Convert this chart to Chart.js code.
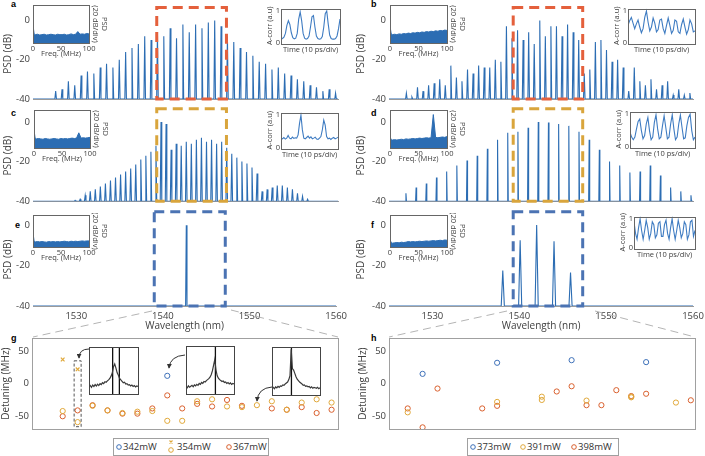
<!DOCTYPE html>
<html>
<head>
<meta charset="utf-8">
<script src="https://cdn.jsdelivr.net/npm/chart.js@4.4.1/dist/chart.umd.min.js"></script>
<style>
  body { margin: 0; width: 705px; height: 456px; position: relative; overflow: hidden; background: #fff; font-family: 'Open Sans', sans-serif; color: #333; }
  canvas { position: absolute; }
  .tag { position: absolute; font: bold 9px 'Liberation Sans', sans-serif; color: #000; }
  .legend { position: absolute; height: 16px; border: 1px solid #a0a0a0; background: #fff; font-size: 9.5px; }
  .legend span { position: absolute; top: 1px; white-space: nowrap; }
  .legend svg { position: absolute; overflow: visible; }
  #overlay { position: absolute; left: 0; top: 0; pointer-events: none; }
</style>
</head>
<body>
<div class="tag" style="left:11px;top:-1px">a</div>
<div class="tag" style="left:371px;top:-1px">b</div>
<div class="tag" style="left:11px;top:108px">c</div>
<div class="tag" style="left:371px;top:108px">d</div>
<div class="tag" style="left:15px;top:220px">e</div>
<div class="tag" style="left:371px;top:220px">f</div>
<div class="tag" style="left:11px;top:333px">g</div>
<div class="tag" style="left:371px;top:333px">h</div>

<div class="legend" style="left:113px;top:438px;width:154px">
  <svg style="left:3px;top:8px"><circle cx="2" cy="0" r="2.3" fill="none" stroke="#3d70b8" stroke-width="1"/></svg>
  <span style="left:9px">342mW</span>
  <svg style="left:55px;top:3px"><path d="M0.5 -1.5 L3.5 1.5 M0.5 1.5 L3.5 -1.5" stroke="#e0a83a" stroke-width="1.1"/><circle cx="2" cy="8" r="2.3" fill="none" stroke="#e0a83a" stroke-width="1"/></svg>
  <span style="left:63px">354mW</span>
  <svg style="left:113px;top:8px"><circle cx="2" cy="0" r="2.3" fill="none" stroke="#d9602e" stroke-width="1"/></svg>
  <span style="left:119px">367mW</span>
</div>
<div class="legend" style="left:467px;top:438px;width:150px">
  <svg style="left:3px;top:8px"><circle cx="2" cy="0" r="2.3" fill="none" stroke="#3d70b8" stroke-width="1"/></svg>
  <span style="left:9px">373mW</span>
  <svg style="left:53px;top:8px"><circle cx="2" cy="0" r="2.3" fill="none" stroke="#e0a83a" stroke-width="1"/></svg>
  <span style="left:59px">391mW</span>
  <svg style="left:104px;top:8px"><circle cx="2" cy="0" r="2.3" fill="none" stroke="#d9602e" stroke-width="1"/></svg>
  <span style="left:110px">398mW</span>
</div>

<script>
// ---- optical spectra (dB), one peak per comb line ----
const WL_MIN = 1525, WL_MAX = 1560, FLOOR = -40, BOX_TOP = 6.6;

const aStart = 1527.6, aStep = 0.73;
const aPeaks = [-36, -35, -31, -33, -28, -26, -27, -24, -22, -24, -20, -16, -14, -12, -8,
  -10, -6, -8, -4, -9, -2, -6, -2, -4, -1, 0, -3, -8, -11, -14,
  -16, -18, -21, -22, -25, -24, -27, -28, -30, -31, -33, -34, -36, -35, -37];

const bStart = 1527.0, bStep = 0.64;
const bPeaks = [-37, -39, -34, -36, -33, -32, -30, -33, -23, -29, -31, -25, -27, -23, -24,
  -24, -20, -21, -3, -9, -5, -10, -6, -12, 0, -8, -3, -3, -8, -2,
  -6, -10, -27, -25, -11, -10, -15, -21, -20, -24, -36, -24, -31, -33, -30,
  -35, -33, -31, -38, -35, -38, -37];

const cStart = 1529.83, cStep = 0.58;
const cPeaks = [-39.5, -39, -37, -35, -34, -32.5, -31, -29.5, -28, -26.5, -25, -23.5, -21.5, -19, -17,
  -15, -12, 0, -1, -14, -11, -12, -10, -11, -9, -8, -10, -9, -11, -10,
  -13, -16, -18, -20, -21, -23, -26, -35, -34, -33, -32, -32, -33, -34, -36, -37.5, -39];

const dStart = 1526.95, dStep = 1.172;
const dPeaks = [-36, -33, -31, -28, -25, -22, -19.5, -17, -13.5, -9, -5.5, -5, -3, 0, -0.3,
  -1, -2, -5, -9, -14, -20, -22, -25.5, -25, -22, -27, -33, -35, -37];

const eWl = [1542.7];
const ePeaks = [0];

const fWl = [1538.1, 1540.1, 1542.0, 1544.0, 1545.9];
const fPeaks = [-22.5, -7.5, 0, -8, -23.5];

// ---- RF spectra insets (relative level in box) ----
const rfFreq = [0, 2, 4, 8, 12, 16, 20, 24, 28, 32, 36, 40, 44, 48, 52, 56, 60, 64, 68, 72, 76, 80, 84, 88, 92, 96, 100];
const aRf = [0.47, 0.24, 0.22, 0.23, 0.21, 0.22, 0.23, 0.21, 0.22, 0.23, 0.22, 0.21, 0.23, 0.22, 0.22, 0.23, 0.21, 0.22, 0.24, 0.22, 0.23, 0.3, 0.23, 0.24, 0.23, 0.25, 0.24];
const bRf = [0.45, 0.25, 0.22, 0.23, 0.22, 0.24, 0.23, 0.25, 0.24, 0.26, 0.25, 0.27, 0.26, 0.28, 0.27, 0.29, 0.28, 0.3, 0.29, 0.31, 0.3, 0.32, 0.31, 0.33, 0.32, 0.34, 0.33];
const cRf = [0.47, 0.26, 0.24, 0.25, 0.24, 0.23, 0.25, 0.24, 0.23, 0.24, 0.25, 0.24, 0.23, 0.25, 0.24, 0.25, 0.24, 0.25, 0.26, 0.25, 0.26, 0.4, 0.26, 0.27, 0.26, 0.27, 0.28];
const dRf = [0.3, 0.22, 0.21, 0.22, 0.21, 0.22, 0.23, 0.22, 0.24, 0.23, 0.24, 0.25, 0.24, 0.25, 0.26, 0.25, 0.26, 0.27, 0.26, 0.27, 0.88, 0.28, 0.27, 0.28, 0.29, 0.28, 0.3];
const eRf = [0.44, 0.18, 0.16, 0.17, 0.16, 0.17, 0.16, 0.15, 0.17, 0.16, 0.17, 0.16, 0.17, 0.16, 0.17, 0.18, 0.17, 0.16, 0.18, 0.17, 0.18, 0.17, 0.18, 0.19, 0.18, 0.19, 0.19];
const fRf = [0.24, 0.14, 0.12, 0.13, 0.14, 0.13, 0.15, 0.14, 0.15, 0.17, 0.16, 0.17, 0.16, 0.17, 0.18, 0.17, 0.18, 0.19, 0.18, 0.19, 0.2, 0.19, 0.2, 0.21, 0.2, 0.22, 0.21];

// ---- autocorrelation insets (a.u.), 41 samples across the window ----
const aAc = [0.12, 0.14, 0.18, 0.3, 0.55, 0.7, 0.58, 0.32, 0.17, 0.13, 0.15, 0.3, 0.75, 0.97, 0.7, 0.3, 0.15, 0.12, 0.14, 0.22, 0.5,
  0.82, 0.86, 0.5, 0.22, 0.14, 0.12, 0.13, 0.2, 0.5, 0.92, 1.0, 0.6, 0.25, 0.14, 0.12, 0.12, 0.14, 0.22, 0.45, 0.75];
const bAc = [0.55, 0.7, 0.8, 0.62, 0.45, 0.6, 0.72, 0.5, 0.32, 0.45, 0.8, 1.0, 0.65, 0.38, 0.5, 0.78, 0.62, 0.35, 0.42, 0.72, 0.75,
  0.45, 0.3, 0.55, 0.78, 0.55, 0.3, 0.4, 0.72, 0.68, 0.35, 0.3, 0.58, 0.75, 0.5, 0.28, 0.42, 0.72, 0.6, 0.35, 0.38];
const cAc = [0.3, 0.28, 0.32, 0.27, 0.3, 0.38, 0.3, 0.28, 0.33, 0.29, 0.31, 0.3, 0.4, 0.75, 1.0, 0.55, 0.3, 0.28, 0.32, 0.36, 0.3,
  0.34, 0.28, 0.3, 0.33, 0.27, 0.26, 0.3, 0.35, 0.55, 0.85, 0.7, 0.35, 0.28, 0.3, 0.26, 0.3, 0.32, 0.28, 0.3, 0.33];
const dAc = [0.45, 0.3, 0.22, 0.3, 0.55, 0.78, 0.85, 0.5, 0.25, 0.35, 0.7, 0.9, 0.5, 0.22, 0.3, 0.75, 0.98, 0.55, 0.25, 0.3, 0.65,
  0.95, 0.6, 0.25, 0.3, 0.7, 0.98, 0.55, 0.22, 0.3, 0.7, 0.97, 0.6, 0.25, 0.28, 0.65, 0.9, 1.0, 0.5, 0.22, 0.3];
const fAc = [0.9, 0.5, 0.3, 0.7, 1.0, 0.6, 0.3, 0.6, 0.95, 0.7, 0.3, 0.5, 0.9, 0.8, 0.35, 0.45, 0.85, 0.9, 0.4, 0.4, 0.8,
  0.95, 0.5, 0.3, 0.7, 1.0, 0.6, 0.3, 0.6, 0.95, 0.7, 0.35, 0.5, 0.9, 0.8, 0.3, 0.45, 0.9, 0.95, 0.4, 0.6];

// ---- beat-note insets in g (relative level), 41 samples ----
const g1Beat = [0.15, 0.18, 0.14, 0.19, 0.16, 0.2, 0.17, 0.21, 0.18, 0.22, 0.2, 0.24, 0.22, 0.26, 0.25, 0.28, 0.3, 0.33, 0.38, 0.45, 0.58,
  0.64, 0.55, 0.45, 0.4, 0.33, 0.3, 0.27, 0.24, 0.25, 0.21, 0.22, 0.19, 0.2, 0.17, 0.19, 0.16, 0.18, 0.15, 0.17, 0.16];
const g1Marks = [19.3, 24.8];
const g2Beat = [0.15, 0.13, 0.17, 0.14, 0.16, 0.18, 0.15, 0.19, 0.17, 0.2, 0.18, 0.22, 0.2, 0.24, 0.22, 0.26, 0.25, 0.28, 0.3, 0.32, 0.35,
  0.4, 0.48, 0.6, 0.72, 0.5, 0.38, 0.33, 0.3, 0.28, 0.26, 0.27, 0.24, 0.25, 0.22, 0.24, 0.21, 0.23, 0.2, 0.22, 0.21];
const g2Marks = [24.5];
const g3Beat = [0.14, 0.16, 0.13, 0.17, 0.15, 0.18, 0.16, 0.19, 0.18, 0.21, 0.2, 0.23, 0.25, 0.27, 0.32, 0.4, 0.95, 0.55, 0.52, 0.45, 0.38,
  0.33, 0.3, 0.27, 0.25, 0.23, 0.2, 0.21, 0.18, 0.19, 0.17, 0.18, 0.15, 0.17, 0.14, 0.16, 0.15, 0.14, 0.16, 0.13, 0.15];
const g3Marks = [16.2];

// ---- detuning per comb mode (MHz) ----
const g342Mode = [7], g342Det = [12];
const g354xMode = [0, 1], g354xDet = [37, 22];
const g354Mode = [0, 1, 2, 3, 4, 5, 6, 7, 8, 9, 10, 11, 12, 13, 14, 15, 16, 17, 18];
const g354Det = [-42, -59, -34, -41, -45, -43, -42, -57, -57, -27, -24, -35, -36, -33, -27, -40, -29, -24, -29];
const g367Mode = [0, 1, 2, 3, 4, 5, 6, 7, 8, 9, 10, 11, 12, 14, 15, 16, 17, 18];
const g367Det = [-50, -41, -33, -41, -46, -46, -38, -18, -38, -31, -35, -25, -34, -38, -40, -36, -45, -40];

const h373Mode = [1, 6, 11, 16], h373Det = [15, 32, 36, 33];
const h391Mode = [0, 6, 9, 9, 12, 15, 15, 18], h391Det = [-44, -28, -20, -25, -26, -20, -21, -29];
const h398Mode = [0, 1, 2, 5, 6, 10, 11, 12, 13, 14, 15, 16, 19];
const h398Det = [-38, -67, -7.5, -38, -34, -12, -4, -33, -33, -10, -19, -15.5, -25.5];

// ---- styling ----
const BLUE = '#2c6db3';
const AC_BLUE = '#3f7cc2';
const C_RED_BOX = '#e4603c', C_YEL_BOX = '#d9a53c', C_BLU_BOX = '#4b73b3';
const C1 = '#3d70b8', C2 = '#e0a83a', C3 = '#d9602e';
const TXT = '#404040';

Chart.defaults.font.family = "'Open Sans', sans-serif";
Chart.defaults.color = TXT;

const framePlugin = {
  id: 'frame',
  beforeDraw(chart, args, opts) {
    if (!opts.fill) return;
    const a = chart.chartArea, c = chart.ctx;
    c.save(); c.fillStyle = opts.fill; c.fillRect(a.left, a.top, a.width, a.height); c.restore();
  },
  afterDraw(chart, args, opts) {
    if (!opts.stroke) return;
    const a = chart.chartArea, c = chart.ctx;
    c.save(); c.strokeStyle = opts.stroke; c.lineWidth = 1;
    c.strokeRect(Math.round(a.left) + 0.5, Math.round(a.top) + 0.5, Math.round(a.width), Math.round(a.height));
    c.restore();
  }
};

// dashed rectangle in data units (zoom window / highlighted mode)
const dashBoxPlugin = {
  id: 'dashBox',
  afterDatasetsDraw(chart, args, opts) {
    if (!opts.color) return;
    const { x, y } = chart.scales, c = chart.ctx;
    const l = x.getPixelForValue(opts.x0) - (opts.padX || 0), r = x.getPixelForValue(opts.x1) + (opts.padX || 0);
    const t = y.getPixelForValue(opts.y1), b = y.getPixelForValue(opts.y0);
    c.save();
    c.strokeStyle = opts.color; c.lineWidth = opts.width; c.setLineDash(opts.dash);
    c.strokeRect(l, t, r - l, b - t);
    c.restore();
  }
};
Chart.register(framePlugin, dashBoxPlugin);

function makeCanvas(left, top, w, h) {
  const cv = document.createElement('canvas');
  cv.width = w; cv.height = h;
  cv.style.left = left + 'px'; cv.style.top = top + 'px';
  document.body.appendChild(cv);
  return cv.getContext('2d');
}

const noGrid = { display: false, drawTicks: false };

function spikes(wls, peaks, hw) {
  const pts = [{ x: WL_MIN, y: FLOOR }];
  peaks.forEach((p, i) => {
    pts.push({ x: wls[i] - hw, y: FLOOR }, { x: wls[i], y: p }, { x: wls[i] + hw, y: FLOOR });
  });
  pts.push({ x: WL_MAX, y: FLOOR });
  return pts;
}
function grid(start, step, n) {
  return Array.from({ length: n }, (_, i) => start + i * step);
}

function spectrum(o) {
  const ctx = makeCanvas(o.left, o.top, o.w, o.h);
  return new Chart(ctx, {
    type: 'line',
    data: { datasets: [{ data: spikes(o.wl, o.peaks, o.hw), borderColor: BLUE, borderWidth: 1.1, pointRadius: 0, tension: 0 }] },
    options: {
      animation: false, responsive: false, events: [],
      layout: { padding: o.pad },
      plugins: {
        legend: { display: false }, tooltip: { enabled: false },
        dashBox: { color: o.boxColor, x0: o.box[0], x1: o.box[1], y0: FLOOR, y1: BOX_TOP, width: 3, dash: [10, 6] }
      },
      scales: {
        x: {
          type: 'linear', min: WL_MIN, max: WL_MAX,
          grid: noGrid, border: { color: '#9a9a9a' },
          ticks: { display: !!o.labels, stepSize: 10, includeBounds: false, padding: 5, font: { size: 9.5 }, callback: v => String(v) },
          title: { display: !!o.labels, text: 'Wavelength (nm)', padding: { top: 0, bottom: 4 }, font: { size: 10 } },
          afterFit: s => { s.height = o.xH; }
        },
        y: {
          min: FLOOR, max: 6,
          grid: noGrid, border: { display: false },
          ticks: { stepSize: 20, includeBounds: false, padding: 3, font: { size: 9.5 } },
          title: { display: true, text: 'PSD (dB)', padding: { top: o.titlePad, bottom: 0 }, font: { size: 10 } },
          afterFit: s => { s.width = o.yW; }
        }
      }
    }
  });
}

// left column: plot 33..338 ; right column: 389..693
const L = { left: 0, w: 352, yW: 33, right: 14, titlePad: 2 };
const R = { left: 352, w: 361, yW: 37, right: 20, titlePad: 3 };

spectrum({ ...L, top: 0, h: 110, xH: 2, pad: { top: 6, bottom: 9, left: 0, right: L.right },
  wl: grid(aStart, aStep, aPeaks.length), peaks: aPeaks, hw: 0.09, boxColor: C_RED_BOX, box: [1539.2, 1547.2] });
spectrum({ ...R, top: 0, h: 110, xH: 2, pad: { top: 6, bottom: 9, left: 0, right: R.right },
  wl: grid(bStart, bStep, bPeaks.length), peaks: bPeaks, hw: 0.09, boxColor: C_RED_BOX, box: [1539.3, 1547.3] });
spectrum({ ...L, top: 100, h: 110, xH: 2, pad: { top: 10, bottom: 5, left: 0, right: L.right },
  wl: grid(cStart, cStep, cPeaks.length), peaks: cPeaks, hw: 0.09, boxColor: C_YEL_BOX, box: [1539.2, 1547.2] });
spectrum({ ...R, top: 100, h: 110, xH: 2, pad: { top: 10, bottom: 5, left: 0, right: R.right },
  wl: grid(dStart, dStep, dPeaks.length), peaks: dPeaks, hw: 0.06, boxColor: C_YEL_BOX, box: [1539.3, 1547.3] });
spectrum({ ...L, top: 200, h: 136, xH: 30, labels: true, pad: { top: 13, bottom: 0, left: 0, right: L.right },
  wl: eWl, peaks: ePeaks, hw: 0.08, boxColor: C_BLU_BOX, box: [1539.0, 1547.2] });
spectrum({ ...R, top: 200, h: 136, xH: 30, labels: true, pad: { top: 13, bottom: 0, left: 0, right: R.right },
  wl: fWl, peaks: fPeaks, hw: 0.18, boxColor: C_BLU_BOX, box: [1539.3, 1547.3] });

// ---- insets ----
const insetFont = { size: 7.5 };

function rfInset(box, vals) {
  const w = box.r - box.l, h = box.b - box.t;
  const ctx = makeCanvas(box.l - 8, box.t - 2, w + 8 + 24, h + 2 + 15);
  new Chart(ctx, {
    type: 'line',
    data: { datasets: [{ data: rfFreq.map((f, i) => ({ x: f, y: vals[i] })), borderColor: BLUE, backgroundColor: BLUE,
      borderWidth: 1, fill: 'start', pointRadius: 0, tension: 0 }] },
    options: {
      animation: false, responsive: false, events: [],
      layout: { padding: { left: 8, top: 2, right: 2, bottom: 0 } },
      plugins: { legend: { display: false }, tooltip: { enabled: false }, frame: { fill: '#fff', stroke: '#666' } },
      scales: {
        x: { type: 'linear', min: 0, max: 100, grid: noGrid, border: { display: false },
          ticks: { stepSize: 50, padding: 1, font: insetFont, maxRotation: 0 },
          title: { display: true, text: 'Freq. (MHz)', padding: 0, font: insetFont },
          afterFit: s => { s.height = 15; } },
        y: { position: 'right', min: 0, max: 1, grid: noGrid, border: { display: false }, ticks: { display: false },
          title: { display: true, text: ['PSD', '(20 dB/div)'], padding: { top: 2, bottom: 0 }, font: insetFont },
          afterFit: s => { s.width = 22; } }
      }
    }
  });
}

function acInset(box, vals) {
  const w = box.r - box.l, h = box.b - box.t;
  const ctx = makeCanvas(box.l - 16, box.t - 4, w + 16 + 4, h + 4 + 11);
  new Chart(ctx, {
    type: 'line',
    data: { datasets: [{ data: vals.map((v, i) => ({ x: i, y: v })), borderColor: AC_BLUE, borderWidth: 1.1, pointRadius: 0, tension: 0 }] },
    options: {
      animation: false, responsive: false, events: [],
      layout: { padding: { left: 0, top: 4, right: 4, bottom: 0 } },
      plugins: { legend: { display: false }, tooltip: { enabled: false }, frame: { fill: '#fff', stroke: '#666' } },
      scales: {
        x: { type: 'linear', min: 0, max: vals.length - 1, grid: noGrid, border: { display: false }, ticks: { display: false },
          title: { display: true, text: 'Time (10 ps/div)', padding: 0, font: insetFont },
          afterFit: s => { s.height = 11; } },
        y: { min: 0, max: 1.08, grid: noGrid, border: { display: false },
          ticks: { stepSize: 1, includeBounds: false, padding: 1, font: insetFont },
          title: { display: true, text: 'A-corr (a.u)', padding: 0, font: insetFont },
          afterFit: s => { s.width = 16; } }
      }
    }
  });
}

rfInset({ l: 33, t: 5, r: 89, b: 43 }, aRf);
acInset({ l: 281, t: 7, r: 340, b: 43 }, aAc);
rfInset({ l: 390, t: 5, r: 447, b: 43 }, bRf);
acInset({ l: 628, t: 7, r: 695, b: 43 }, bAc);
rfInset({ l: 34, t: 110, r: 90, b: 148 }, cRf);
acInset({ l: 281, t: 111, r: 338, b: 148 }, cAc);
rfInset({ l: 390, t: 110, r: 447, b: 148 }, dRf);
acInset({ l: 630, t: 110, r: 695, b: 147 }, dAc);
rfInset({ l: 33, t: 215, r: 89, b: 247 }, eRf);
rfInset({ l: 390, t: 215, r: 447, b: 247 }, fRf);
acInset({ l: 634, t: 215, r: 695, b: 248 }, fAc);

// ---- detuning panels ----
function pts(modes, det) { return modes.map((m, i) => ({ x: m, y: det[i] })); }
function ring(color, data) {
  return { data, borderColor: color, backgroundColor: 'rgba(0,0,0,0)', pointStyle: 'circle', pointRadius: 2.6, borderWidth: 1 };
}

function detuning(o) {
  const ctx = makeCanvas(o.left, 328, o.w, 110);
  new Chart(ctx, {
    type: 'scatter',
    data: { datasets: o.sets },
    options: {
      animation: false, responsive: false, events: [],
      layout: { padding: { left: 0, top: 10, right: o.right, bottom: 5.6 } },
      plugins: { legend: { display: false }, tooltip: { enabled: false }, frame: { stroke: '#a0a0a0' },
        dashBox: o.mark || {} },
      scales: {
        x: { display: false, min: o.xMin, max: o.xMax },
        y: { min: -70, max: 70, grid: noGrid, border: { display: false },
          ticks: { stepSize: 50, includeBounds: false, padding: 3, font: { size: 9.5 } },
          title: { display: true, text: 'Detuning (MHz)', padding: { top: o.titlePad, bottom: 0 }, font: { size: 10 } },
          afterFit: s => { s.width = o.yW; } }
      }
    }
  });
}

detuning({ left: 0, w: 352, yW: 32, right: 14, titlePad: 0, xMin: -2.055, xMax: 18.43,
  mark: { color: '#555', x0: 1, x1: 1, padX: 3.5, y0: -66, y1: 35, width: 1, dash: [3, 2] },
  sets: [
    ring(C1, pts(g342Mode, g342Det)),
    { data: pts(g354xMode, g354xDet), borderColor: C2, pointStyle: 'crossRot', pointRadius: 2.6, borderWidth: 1.2 },
    ring(C2, pts(g354Mode, g354Det)),
    ring(C3, pts(g367Mode, g367Det))
  ] });
detuning({ left: 352, w: 361, yW: 37, right: 18, titlePad: 5, xMin: -1.255, xMax: 19.28,
  sets: [
    ring(C1, pts(h373Mode, h373Det)),
    ring(C2, pts(h391Mode, h391Det)),
    ring(C3, pts(h398Mode, h398Det))
  ] });

// beat-note insets in g
function beatInset(box, vals, marks) {
  const w = box.r - box.l, h = box.b - box.t;
  const ctx = makeCanvas(box.l - 1, box.t - 1, w + 2, h + 2);
  const sets = [{ data: vals.map((v, i) => ({ x: i, y: v })), borderColor: '#3a3a3a', borderWidth: 1.2, pointRadius: 0, tension: 0 }];
  marks.forEach(m => sets.push({ data: [{ x: m, y: 0 }, { x: m, y: 1 }], borderColor: '#111', borderWidth: 1.3, pointRadius: 0 }));
  new Chart(ctx, {
    type: 'line',
    data: { datasets: sets },
    options: {
      animation: false, responsive: false, events: [],
      layout: { padding: 1 },
      plugins: { legend: { display: false }, tooltip: { enabled: false }, frame: { fill: '#fff', stroke: '#444' } },
      scales: { x: { type: 'linear', display: false, min: 0, max: 40 }, y: { display: false, min: 0, max: 1 } }
    }
  });
}
beatInset({ l: 89, t: 347, r: 138, b: 394 }, g1Beat, g1Marks);
beatInset({ l: 186, t: 346, r: 234, b: 394 }, g2Beat, g2Marks);
beatInset({ l: 272, t: 347, r: 320, b: 395 }, g3Beat, g3Marks);
</script>

<svg id="overlay" width="705" height="456">
  <defs>
    <marker id="ah" viewBox="0 0 6 6" refX="5" refY="3" markerWidth="5" markerHeight="5" orient="auto">
      <path d="M0 0 L6 3 L0 6 z" fill="#333"/>
    </marker>
  </defs>
  <g stroke="#b4b4b4" stroke-width="1" stroke-dasharray="8 5" fill="none">
    <line x1="152" y1="311" x2="33" y2="337"/>
    <line x1="231" y1="310" x2="338" y2="337"/>
    <line x1="507" y1="311" x2="389" y2="337"/>
    <line x1="595" y1="311" x2="695" y2="337"/>
  </g>
  <g stroke="#333" stroke-width="1" fill="none" marker-end="url(#ah)">
    <path d="M89 349 Q79 349 79 358"/>
    <path d="M185 355 Q170 356 169 368"/>
    <path d="M272 387 Q258 388 257 401"/>
  </g>
</svg>
</body>
</html>
